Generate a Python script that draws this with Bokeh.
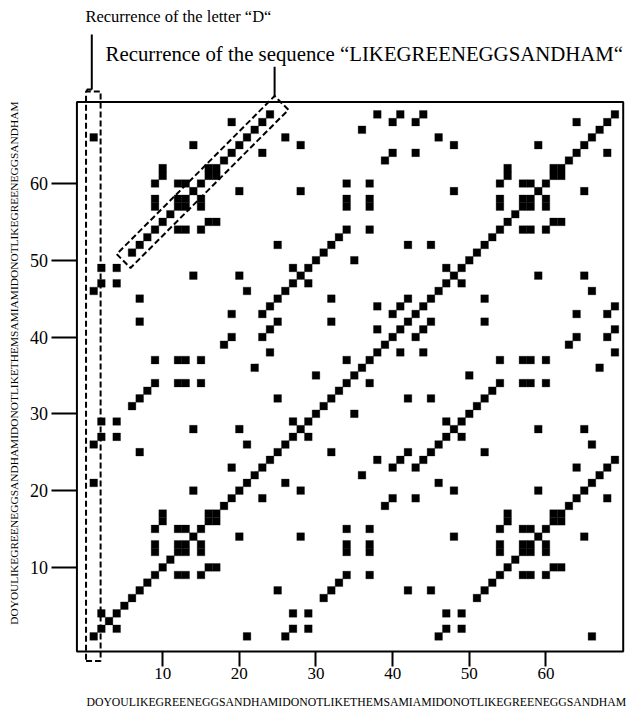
import math
from bokeh.plotting import figure
from bokeh.models import ColumnDataSource, Label, PolyAnnotation, BoxAnnotation
from bokeh.embed import file_html
from bokeh.resources import INLINE

# ---- data -------------------------------------------------------------
sequence = list("DOYOULIKEGREENEGGSANDHAMIDONOTLIKETHEMSAMIAMIDONOTLIKEGREENEGGSANDHAM")
positions = list(range(1, len(sequence) + 1))
tick_values = [10, 20, 30, 40, 50, 60]
axis_text = "".join(sequence)
note_letter = "Recurrence of the letter \u201cD\u201c"
note_sequence = "Recurrence of the sequence \u201cLIKEGREENEGGSANDHAM\u201c"

# recurrence matrix: a cell wherever the symbol at i equals the symbol at j
cell_x, cell_y = [], []
for i, a in zip(positions, sequence):
    for j, b in zip(positions, sequence):
        if a == b:
            cell_x.append(i)
            cell_y.append(j)
src = ColumnDataSource(dict(x=cell_x, y=cell_y))

# plotting box (the framed area) in data units
box_left, box_right, box_bottom, box_top = -1.19, 70.08, -0.96, 70.62

# ---- figure -----------------------------------------------------------
p = figure(width=627, height=711, x_range=(-11.16, 70.64), y_range=(-8.78, 83.84),
           output_backend="svg", toolbar_location=None,
           min_border_left=0, min_border_right=0, min_border_top=0, min_border_bottom=0)
p.background_fill_color = "white"
p.border_fill_color = "white"
p.outline_line_color = None
p.xgrid.grid_line_color = None
p.ygrid.grid_line_color = None

p.rect(x="x", y="y", width=1, height=1, source=src,
       fill_color="black", line_color="black", line_width=0.3)

p.add_layout(BoxAnnotation(left=box_left, right=box_right, bottom=box_bottom, top=box_top,
                           fill_alpha=0, fill_color=None, line_color="black",
                           line_alpha=1, line_width=2))

for ax, tick_len, size in ((p.xaxis[0], 15, "17px"), (p.yaxis[0], 25, "18px")):
    ax.ticker = tick_values
    ax.axis_line_color = None
    ax.major_tick_out = tick_len
    ax.major_tick_in = 0
    ax.minor_tick_out = 0
    ax.minor_tick_in = 0
    ax.major_tick_line_width = 2
    ax.major_tick_line_color = "black"
    ax.major_label_text_font = "Liberation Serif"
    ax.major_label_text_font_size = size
    ax.major_label_text_color = "black"

p.xaxis.major_label_standoff = 2
p.yaxis.major_label_standoff = 4
p.xaxis.fixed_location = box_bottom
p.yaxis.fixed_location = box_left

# sequence labels along both axes
p.add_layout(Label(x=35.26, y=-7.58, text=axis_text,
                   text_align="center", text_baseline="middle",
                   text_font="Liberation Serif", text_font_size="11.75px",
                   text_color="black"))
p.add_layout(Label(x=-9.43, y=36.6, text=axis_text, angle=math.pi / 2,
                   text_align="center", text_baseline="middle",
                   text_font="Liberation Serif", text_font_size="11.4px",
                   text_color="black"))

# ---- annotations ------------------------------------------------------
dash = dict(fill_color=None, fill_alpha=0, line_color="black", line_alpha=1,
            line_width=2, line_dash="6 3")
solid = dict(fill_color=None, fill_alpha=0, line_color="black", line_alpha=1, line_width=2)

p.add_layout(PolyAnnotation(xs=[0.0, 1.9, 1.9, 0.0], ys=[-2.2, -2.2, 72.0, 72.0], **dash))
p.add_layout(PolyAnnotation(xs=[4.0, 5.8, 26.4, 24.6], ys=[50.8, 49.0, 69.6, 71.4], **dash))

p.add_layout(PolyAnnotation(xs=[0.75, 0.75], ys=[79.4, 72.25], **solid))
p.add_layout(PolyAnnotation(xs=[0.75, 0.1], ys=[72.25, 72.25], **solid))
p.add_layout(PolyAnnotation(xs=[0.1, 0.1], ys=[72.25, 72.0], **solid))
p.add_layout(PolyAnnotation(xs=[24.6, 24.6], ys=[75.2, 71.4], **solid))

p.add_layout(Label(x=-0.08, y=81.8, text=note_letter, text_baseline="middle",
                   text_font="Liberation Serif", text_font_size="16.5px", text_color="black"))
p.add_layout(Label(x=2.55, y=77.0, text=note_sequence, text_baseline="middle",
                   text_font="Liberation Serif", text_font_size="20.8px", text_color="black"))

open("out.html", "w").write(file_html(p, INLINE))
